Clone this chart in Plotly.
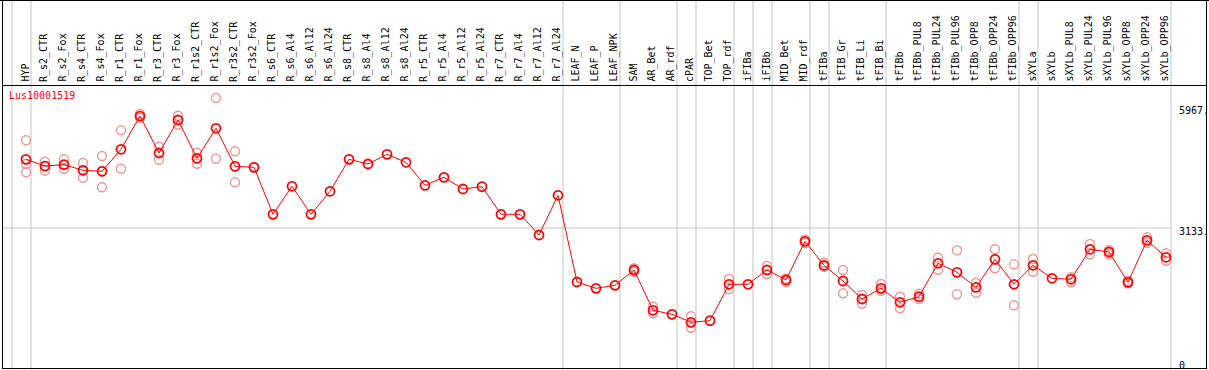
import plotly.graph_objects as go

categories = ["HYP", "R_s2_CTR", "R_s2_Fox", "R_s4_CTR", "R_s4_Fox", "R_r1_CTR", "R_r1_Fox",
              "R_r3_CTR", "R_r3_Fox", "R_r1s2_CTR", "R_r1s2_Fox", "R_r3s2_CTR", "R_r3s2_Fox",
              "R_s6_CTR", "R_s6_Al4", "R_s6_Al12", "R_s6_Al24", "R_s8_CTR", "R_s8_Al4",
              "R_s8_Al12", "R_s8_Al24", "R_r5_CTR", "R_r5_Al4", "R_r5_Al12", "R_r5_Al24",
              "R_r7_CTR", "R_r7_Al4", "R_r7_Al12", "R_r7_Al24", "LEAF_N", "LEAF_P", "LEAF_NPK",
              "SAM", "AR_Bet", "AR_rdf", "cPAR", "TOP_Bet", "TOP_rdf", "iFIBa", "iFIBb",
              "MID_Bet", "MID_rdf", "tFIBa", "tFIB_Gr", "tFIB_Li", "tFIB_Bi", "tFIBb",
              "tFIBb_PUL8", "tFIBb_PUL24", "tFIBb_PUL96", "tFIBb_OPP8", "tFIBb_OPP24",
              "tFIBb_OPP96", "sXYLa", "sXYLb", "sXYLb_PUL8", "sXYLb_PUL24", "sXYLb_PUL96",
              "sXYLb_OPP8", "sXYLb_OPP24", "sXYLb_OPP96"]

mean_values = [4739, 4582, 4613, 4482, 4459, 4973, 5751, 4886, 5658, 4762, 5464, 4575, 4552,
               3453, 4108, 3453, 3991, 4739, 4629, 4856, 4669, 4131, 4318, 4045, 4099,
               3453, 3453, 2969, 3898, 1870, 1723, 1793, 2151, 1209, 1115, 928, 966,
               1817, 1817, 2151, 1917, 2822, 2261, 1894, 1473, 1723, 1396, 1527, 2308,
               2097, 1746, 2401, 1817, 2261, 1957, 1934, 2635, 2572, 1863, 2845, 2448]

replicate_values = [
    [5183, 4629, 4435], [4683, 4473, 4582], [4739, 4519, 4613], [4653, 4309, 4482],
    [4816, 4085, 4459], [5417, 4519], [5798, 5705], [5034, 4730], [5758, 5548],
    [4893, 4636], [6172, 4753], [4926, 4201], [4552],
    [], [], [], [], [], [], [], [], [], [], [], [], [], [], [], [],
    [], [], [], [2191, 2111], [1293, 1139], [], [1068, 802], [],
    [1941, 1700], [], [2244, 2057], [1948, 1870], [2859, 2782], [2322, 2228],
    [2151, 1606], [1566, 1363], [1824, 1667], [1527, 1256], [1597, 1473],
    [2439, 2158], [2612, 1583], [1854, 1620], [2635, 2191], [2284, 1326],
    [2408, 2111], [], [1980, 1863], [2759, 2518], [2619, 2518], [1901, 1840],
    [2915, 2789], [2541, 2368]]

group_breaks_after = [-1, 0, 28, 31, 34, 35, 37, 38, 39, 41, 42, 45, 52, 53, 60]
y_tick_values = [5967, 3133, 0]
y_tick_labels = ["5967.", "3133.", "0"]
series_name = "Lus10001519"

W, H = 1209, 370
X0_PX, STEP_PX = 26, 19
Y0_PX, K = 362, 134 / 3133

def px_x(px):
    return px / W

def px_y(py):
    return 1 - py / H

x_idx = list(range(len(categories)))
rep_x, rep_y = [], []
for i, reps in enumerate(replicate_values):
    for v in reps:
        rep_x.append(i)
        rep_y.append(v)

fig = go.Figure()
fig.add_trace(go.Scatter(
    x=rep_x, y=rep_y, mode="markers", hoverinfo="skip",
    marker=dict(symbol="circle-open", size=9, color="rgb(236,150,150)",
                line=dict(width=1.4, color="rgb(236,150,150)")),
    showlegend=False))
fig.add_trace(go.Scatter(
    x=x_idx, y=mean_values, mode="lines+markers", text=categories,
    line=dict(color="#ff0000", width=1),
    marker=dict(symbol="circle-open", size=9, color="#ff0000",
                line=dict(width=1.8, color="#ff0000")),
    showlegend=False))

shapes = []
grey = "#c4c4c4"
for b in group_breaks_after:
    shapes.append(dict(type="line", xref="x", yref="paper", x0=b + 5 / STEP_PX, x1=b + 5 / STEP_PX,
                       y0=0, y1=1, line=dict(color=grey, width=1), layer="below"))
shapes.append(dict(type="line", xref="paper", yref="y", x0=px_x(2), x1=px_x(1171),
                   y0=y_tick_values[1], y1=y_tick_values[1], line=dict(color=grey, width=1), layer="below"))
black = "#000000"
shapes += [
    dict(type="line", xref="paper", yref="paper", x0=0, x1=1, y0=px_y(0.5), y1=px_y(0.5), line=dict(color=black, width=1)),
    dict(type="line", xref="paper", yref="paper", x0=px_x(2.5), x1=px_x(2.5), y0=px_y(0), y1=px_y(369), line=dict(color=black, width=1)),
    dict(type="line", xref="paper", yref="paper", x0=px_x(1206.5), x1=px_x(1206.5), y0=px_y(0), y1=px_y(369), line=dict(color=black, width=1)),
    dict(type="line", xref="paper", yref="paper", x0=px_x(2), x1=px_x(1207), y0=px_y(85.5), y1=px_y(85.5), line=dict(color=black, width=1)),
    dict(type="line", xref="paper", yref="paper", x0=px_x(2), x1=px_x(1207), y0=px_y(368.5), y1=px_y(368.5), line=dict(color=black, width=1)),
]

mono = "DejaVu Sans Mono"
annotations = []
for i, c in enumerate(categories):
    annotations.append(dict(x=i, y=px_y(83), xref="x", yref="paper", text=c, showarrow=False,
                            textangle=-90, xanchor="center", yanchor="bottom", xshift=-1.5,
                            font=dict(family=mono, size=10, color="#000000"), borderpad=0))
for v, t in zip(y_tick_values, y_tick_labels):
    annotations.append(dict(x=px_x(1178), y=v, xref="paper", yref="y", text=t, showarrow=False,
                            xanchor="left", yanchor="top", yshift=3,
                            font=dict(family=mono, size=10, color="#000000"), borderpad=0))
annotations.append(dict(x=px_x(8), y=px_y(89), xref="paper", yref="paper", text=series_name,
                        showarrow=False, xanchor="left", yanchor="top",
                        font=dict(family=mono, size=10, color="#ff0000"), borderpad=0))

fig.update_layout(
    width=W, height=H, margin=dict(l=0, r=0, t=0, b=0, pad=0),
    paper_bgcolor="white", plot_bgcolor="white",
    xaxis=dict(range=[-X0_PX / STEP_PX, (W - X0_PX) / STEP_PX], visible=False, fixedrange=True),
    yaxis=dict(range=[(Y0_PX - H) / K, Y0_PX / K], visible=False, fixedrange=True),
    shapes=shapes, annotations=annotations, showlegend=False,
)

fig.write_html("out.html", config={"displayModeBar": False},
               post_script="document.body.style.margin='0';document.body.style.overflow='hidden';")
